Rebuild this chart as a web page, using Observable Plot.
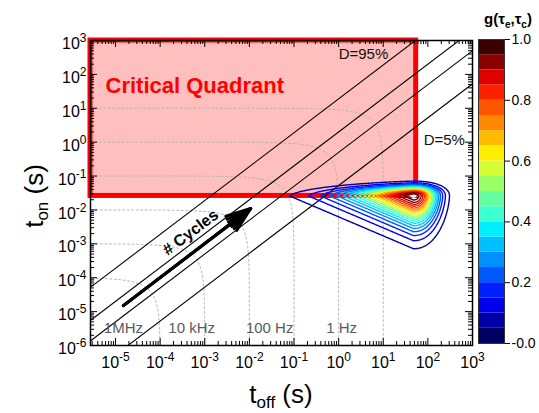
<!DOCTYPE html>
<html><head><meta charset="utf-8">
<script src="https://cdn.jsdelivr.net/npm/d3@7"></script>
<script src="https://cdn.jsdelivr.net/npm/@observablehq/plot@0.6"></script>
<style>
body{margin:0;background:#fff;}
#wrap{position:relative;width:539px;height:413px;}
#wrap svg{position:absolute;left:0;top:0;}
</style></head><body><div id="wrap"></div>
<script>
// ---------- data ----------
const xDomain = [2.75e-6, 1e3];            // t_off (s)
const yDomain = [1e-6, 1e3];               // t_on (s)
const xTickValues = [1e-5, 1e-4, 1e-3, 1e-2, 1e-1, 1, 1e1, 1e2, 1e3];
const yTickValues = [1e-6, 1e-5, 1e-4, 1e-3, 1e-2, 1e-1, 1, 1e1, 1e2, 1e3];
const dutyRatios = [19, 2, 0.5, 1 / 19];   // t_on / t_off  (D = 95% ... 5%)
const periods = [1e-4, 1e-3, 1e-2, 1e-1, 1, 10]; // t_on + t_off = T
const freqNames = ["1MHz", "10 kHz", "100 Hz", "1 Hz"];
const freqNameX = [1.5e-5, 5.1e-4, 2.85e-2, 1.17];
const freqNameY = [2.3e-6, 2.3e-6, 2.3e-6, 2.3e-6];
const criticalQuadrant = [{x1: 2.75e-6, x2: 54.7, y1: 0.0259, y2: 1e3}];
const peak = [47.3, 0.026];                 // (t_off, t_on) of max g
const reach = {left: 2.78, bottom: 1.56, upper: 2.5, right: 0.81, top: 0.45}; // decades at g = 0.05
const levels = [0.05, 0.1, 0.15, 0.2, 0.25, 0.3, 0.35, 0.4, 0.45, 0.5, 0.55, 0.6, 0.65, 0.7, 0.75, 0.8, 0.85, 0.9, 0.95];
const bandColors = ["#000060", "#0000a8", "#0000ee", "#0020ff", "#0058ff", "#0090ff", "#00c0ff", "#00eeff", "#3cffd2", "#66ffa0",
                    "#99ff66", "#d4ff33", "#ffee00", "#ffbb00", "#ff8800", "#ff5500", "#ff2000", "#e00000", "#8b0000", "#3d0000"];
const colorbarTicks = [0, 0.2, 0.4, 0.6, 0.8, 1.0];
const notes = [
  {text: "D=95%", x: 1.0, y: 294},
  {text: "D=5%", x: 80.5, y: 0.8}
];
const cyclesArrow = [{x1: 1.5e-5, y1: 1.5e-5, x2: 1.07e-2, y2: 1.1e-2}];
const cyclesLabel = [{text: "# Cycles", x: 4.8e-4, y: 2.17e-3}];
const quadrantLabel = [{text: "Critical Quadrant", x: 5.97e-6, y: 27.4}];

// ---------- derived ----------
function g(toff, ton) {
  const u = Math.log10(toff) - Math.log10(peak[0]);
  const v = Math.log10(ton) - Math.log10(peak[1]);
  const nl = Math.max(0, -u) / reach.left + Math.max(0, -v) / reach.bottom + Math.max(0, v) / reach.upper;
  const F = 3 * Math.pow(nl, 1.6) + 3 * Math.pow(Math.max(0, u) / reach.right, 2.2) + 3 * Math.pow(Math.max(0, v) / reach.top, 2.2);
  return Math.exp(-F);
}
// contour rings of g, computed on a grid uniform in log space
const nx = 460, ny = 380;
const lx0 = Math.log10(xDomain[0]), lx1 = Math.log10(xDomain[1]);
const ly0 = Math.log10(yDomain[0]), ly1 = Math.log10(yDomain[1]);
const grid = new Float64Array(nx * ny);
for (let j = 0; j < ny; j++) for (let i = 0; i < nx; i++) {
  grid[j * nx + i] = g(10 ** (lx0 + (i + 0.5) * (lx1 - lx0) / nx), 10 ** (ly0 + (j + 0.5) * (ly1 - ly0) / ny));
}
function ringsOf(thresholds) {
  const pts = [];
  let ring = 0;
  d3.contours().size([nx, ny]).thresholds(thresholds)(grid).forEach(c => {
    c.coordinates.forEach(poly => poly.forEach(r => {
      r.forEach(([gx, gy]) => pts.push({ring, level: c.value,
        x: 10 ** (lx0 + gx * (lx1 - lx0) / nx), y: 10 ** (ly0 + gy * (ly1 - ly0) / ny)}));
      ring++;
    }));
  });
  return pts;
}
const contourPts = ringsOf(levels);
const centerPts = ringsOf([0.985]);

const freqCurves = periods.flatMap(T => {
  const pts = [], aMax = Math.log10(0.5);
  for (let i = 0; i <= 200; i++) { const a = -10 + i * (aMax + 10) / 200; const xo = T * 10 ** a; pts.push({T, x: xo, y: T - xo}); }
  for (let i = 200; i >= 0; i--) { const a = -10 + i * (aMax + 10) / 200; const yo = T * 10 ** a; pts.push({T, x: T - yo, y: yo}); }
  return pts;
});
const dLines = dutyRatios.map(r => ({x1: 1e-9, y1: r * 1e-9, x2: 1e5, y2: r * 1e5}));
const freqLabelData = freqNames.map((t, i) => ({text: t, x: freqNameX[i], y: freqNameY[i]}));
const minorX = [], minorY = [];
for (let e = -7; e < 3; e++) for (let k = 2; k <= 9; k++) {
  const v = k * 10 ** e;
  if (v > xDomain[0] && v < xDomain[1]) minorX.push(v);
  if (v > yDomain[0] && v < yDomain[1]) minorY.push(v);
}
const bands = bandColors.map((c, i) => ({lo: i === 0 ? 0 : levels[i - 1], hi: i < levels.length ? levels[i] : 1, color: c}));

const W = 539, H = 413, mL = 90, mR = 67, mT = 40, mB = 68;
const pW = W - mL - mR, pH = H - mT - mB;
const fmtPow = d => "10^" + Math.round(Math.log10(d));
const font = "'Liberation Sans', Arial, sans-serif";
const arrowStyle = {x1: "x1", y1: "y1", x2: "x2", y2: "y2", stroke: "black", strokeWidth: 3, headLength: 13, strokeLinejoin: "miter"};

const main = Plot.plot({
  width: W, height: H, marginLeft: mL, marginRight: mR, marginTop: mT, marginBottom: mB,
  x: {type: "log", domain: xDomain, ticks: xTickValues, tickFormat: fmtPow, tickSize: 0, tickPadding: 11, label: null},
  y: {type: "log", domain: yDomain, ticks: yTickValues, tickFormat: fmtPow, tickSize: 0, tickPadding: 4, label: null},
  color: {type: "threshold", domain: levels, range: bandColors},
  style: {fontFamily: font, fontSize: "16px", background: "white", color: "black"},
  marks: [
    Plot.rect(criticalQuadrant, {x1: "x1", x2: "x2", y1: "y1", y2: "y2", fill: "#ffbfbf"}),
    Plot.line(freqCurves, {x: "x", y: "y", z: "T", stroke: "#b5b5b5", strokeWidth: 1, strokeDasharray: "2,2.5", clip: true}),
    Plot.rect(criticalQuadrant, {x1: "x1", x2: "x2", y1: "y1", y2: "y2", fill: "none", stroke: "#ff0000", strokeWidth: 5}),
    Plot.link(dLines, {x1: "x1", y1: "y1", x2: "x2", y2: "y2", stroke: "black", strokeWidth: 1.1, clip: true}),
    Plot.line(contourPts, {x: "x", y: "y", z: "ring", stroke: "level", strokeWidth: 1.4, clip: true}),
    Plot.line(centerPts, {x: "x", y: "y", z: "ring", fill: "white", stroke: "none", clip: true}),
    Plot.frame({stroke: "black", strokeWidth: 1.5}),
    Plot.tickX(xTickValues, {x: d => d, insetTop: pH - 7, stroke: "black"}),
    Plot.tickX(xTickValues, {x: d => d, insetBottom: pH - 7, stroke: "black"}),
    Plot.tickX(minorX, {x: d => d, insetTop: pH - 4, stroke: "black"}),
    Plot.tickX(minorX, {x: d => d, insetBottom: pH - 4, stroke: "black"}),
    Plot.tickY(yTickValues, {y: d => d, insetRight: pW - 7, stroke: "black"}),
    Plot.tickY(yTickValues, {y: d => d, insetLeft: pW - 7, stroke: "black"}),
    Plot.tickY(minorY, {y: d => d, insetRight: pW - 4, stroke: "black"}),
    Plot.tickY(minorY, {y: d => d, insetLeft: pW - 4, stroke: "black"}),
    Plot.text(quadrantLabel, {x: "x", y: "y", text: "text", textAnchor: "start", lineAnchor: "bottom", fill: "#ff0000", fontWeight: "bold", fontSize: 22}),
    Plot.text(notes, {x: "x", y: "y", text: "text", textAnchor: "start", lineAnchor: "bottom", fill: "#111", fontSize: 15}),
    Plot.text(freqLabelData, {x: "x", y: "y", text: "text", textAnchor: "middle", lineAnchor: "bottom", fill: "#5a5a5a", fontSize: 15}),
    Plot.arrow(cyclesArrow, {...arrowStyle, headAngle: 40}),
    Plot.arrow(cyclesArrow, {...arrowStyle, headAngle: 26}),
    Plot.arrow(cyclesArrow, {...arrowStyle, headAngle: 12}),
    Plot.text(cyclesLabel, {x: "x", y: "y", text: "text", rotate: -37, fill: "black", fontWeight: "bold", fontSize: 16})
  ]
});

// superscript exponents on tick labels
d3.select(main).selectAll("text").each(function () {
  const m = /^10\^(-?\d+)$/.exec(this.textContent);
  if (!m) return;
  const isY = !!this.closest('[aria-label^="y-axis"]');
  const t = d3.select(this);
  t.text(null);
  t.append("tspan").attr("dy", isY ? 3.5 : 0).text("10");
  t.append("tspan").attr("dy", -7).attr("font-size", "12px").text(m[1]);
});
// axis titles with subscripts
const sm = d3.select(main);
const xl = sm.append("text").attr("x", 281).attr("y", 403).attr("text-anchor", "middle")
  .attr("font-size", 26).attr("fill", "black").style("white-space", "pre");
xl.append("tspan").text("t");
xl.append("tspan").attr("font-size", 17).attr("dy", 5).text("off");
xl.append("tspan").attr("dy", -5).text(" (s)");
const yl = sm.append("text").attr("transform", "translate(43,196) rotate(-90)").attr("text-anchor", "middle")
  .attr("font-size", 26).attr("fill", "black").style("white-space", "pre");
yl.append("tspan").text("t");
yl.append("tspan").attr("font-size", 17).attr("dy", 5).text("on");
yl.append("tspan").attr("dy", -5).text(" (s)");

const cb = Plot.plot({
  width: W, height: H, marginLeft: 478, marginRight: 35, marginTop: 39, marginBottom: 70,
  x: {domain: [0, 1], axis: null},
  y: {domain: [0, 1], axis: "right", ticks: colorbarTicks, tickFormat: d => d === 0 ? "-0.0" : d.toFixed(1), tickSize: 5, tickPadding: 2, label: null},
  color: {type: "identity"},
  style: {fontFamily: font, fontSize: "14px", background: "transparent", color: "black"},
  marks: [
    Plot.rect(bands, {x1: d => 0, x2: d => 1, y1: "lo", y2: "hi", fill: "color"}),
    Plot.frame({stroke: "#333", strokeWidth: 1})
  ]
});
const sc = d3.select(cb);
const gt = sc.append("text").attr("x", 508).attr("y", 24).attr("text-anchor", "middle")
  .attr("font-size", 15).attr("font-weight", "bold").attr("fill", "black");
gt.append("tspan").text("g(τ");
gt.append("tspan").attr("font-size", 10).attr("dy", 4).text("e");
gt.append("tspan").attr("dy", -4).text(",τ");
gt.append("tspan").attr("font-size", 10).attr("dy", 4).text("c");
gt.append("tspan").attr("dy", -4).text(")");

const wrap = document.getElementById("wrap");
wrap.appendChild(main);
wrap.appendChild(cb);
</script></body></html>
